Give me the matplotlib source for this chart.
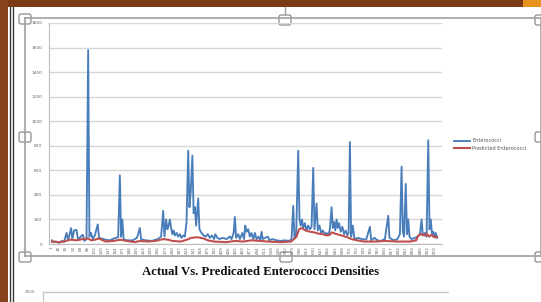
import matplotlib.pyplot as plt
from matplotlib.patches import Rectangle, FancyBboxPatch
from matplotlib.lines import Line2D

obs_idx = [1, 5, 10, 18, 25, 30, 36, 40, 47, 50, 54, 60, 64, 70, 75, 79, 84, 88, 91,
           95, 99, 104, 111, 114, 120, 130, 140, 150, 160, 164, 167, 170, 173, 180,
           195, 205, 212, 215, 225, 240, 255, 263, 268, 271, 275, 278, 281, 284, 287,
           290, 293, 296, 300, 304, 308, 312, 316, 320, 324, 328, 331, 334, 338, 341,
           344, 347, 352, 355, 360, 365, 370, 375, 380, 385, 390, 393, 398, 404, 410,
           420, 428, 432, 437, 440, 443, 448, 452, 458, 462, 465, 468, 472, 476, 480,
           484, 488, 492, 497, 501, 504, 507, 512, 519, 523, 530, 540, 550, 560, 570,
           576, 580, 583, 587, 592, 595, 598, 601, 604, 608, 612, 616, 620, 624, 628,
           631, 636, 639, 643, 647, 651, 656, 660, 664, 668, 672, 675, 678, 681, 684,
           687, 690, 694, 698, 702, 706, 710, 713, 716, 719, 723, 727, 735, 745, 755,
           764, 767, 775, 782, 790, 800, 808, 811, 816, 822, 830, 836, 840, 843, 846,
           850, 853, 856, 859, 864, 872, 878, 884, 888, 891, 896, 900, 904, 907, 910,
           913, 916, 919, 922, 925]
enterococci = [30, 15, 20, 10, 25, 15, 90, 30, 130, 40, 110, 115, 30, 60, 75, 25, 40, 1580, 60,
               90, 40, 70, 160, 50, 45, 35, 30, 45, 55, 560, 60, 200, 40, 30,
               30, 50, 130, 40, 30, 25, 40, 60, 270, 60, 200, 120, 150, 200, 130,
               80, 110, 70, 90, 60, 80, 50, 70, 60, 180, 760, 300, 420, 720, 250,
               300, 150, 370, 120, 90, 70, 60, 80, 50, 70, 40, 80, 50, 40, 50,
               40, 60, 40, 90, 220, 50, 80, 40, 90, 40, 150, 100, 120, 60, 90,
               40, 90, 40, 60, 30, 100, 40, 50, 60, 30, 40, 30, 25, 30, 25,
               40, 310, 50, 60, 760, 200, 150, 200, 130, 170, 110, 150, 120, 140, 620,
               120, 330, 110, 150, 90, 110, 80, 90, 70, 120, 300, 130, 180, 110, 200,
               130, 170, 100, 140, 80, 110, 70, 90, 830, 60, 150, 40, 50, 40, 35,
               140, 30, 50, 30, 25, 40, 230, 50, 40, 30, 40, 80, 630, 100, 60,
               490, 80, 200, 60, 40, 50, 60, 80, 200, 70, 90, 60, 845, 120, 200,
               80, 100, 60, 90, 50]

pred_idx = [1, 20, 35, 45, 60, 75, 88, 95, 105, 112, 120, 130, 150, 165, 180, 200, 212,
            230, 250, 268, 280, 290, 310, 325, 335, 350, 365, 375, 390, 420, 440, 460,
            480, 500, 520, 550, 575, 588, 594, 600, 610, 620, 630, 640, 650, 661, 668,
            672, 680, 690, 700, 710, 720, 733, 750, 780, 800, 830, 860, 875, 880, 888,
            895, 900, 906, 912, 918, 925]
predicted = [20, 15, 25, 35, 30, 40, 45, 30, 35, 45, 35, 20, 25, 35, 25, 15, 25,
             20, 25, 40, 35, 25, 20, 35, 50, 55, 45, 30, 20, 15, 25, 20,
             30, 25, 20, 15, 20, 60, 120, 130, 110, 100, 95, 85, 80, 70, 75,
             95, 85, 75, 65, 55, 40, 30, 20, 20, 25, 20, 20, 30, 70, 80,
             70, 85, 60, 75, 55, 60]

y_ticks = [0, 200, 400, 600, 800, 1000, 1200, 1400, 1600, 1800]
x_tick_labels = list(range(1, 936, 17))

W, H = 541, 302
fig = plt.figure(figsize=(W / 100, H / 100), dpi=100)
fig.patch.set_facecolor('white')

# page / selection decorations in pixel coordinates
deco = fig.add_axes([0, 0, 1, 1], zorder=0)
deco.set_xlim(0, W)
deco.set_ylim(H, 0)
deco.axis('off')
deco.add_patch(Rectangle((0, 0), W, 7, color='#7b3b17', lw=0))
deco.add_patch(Rectangle((523, 0), 18, 7, color='#e8921e', lw=0))
deco.add_patch(Rectangle((0, 0), 8, H, color='#86431c', lw=0))
for xv in (10, 13):
    deco.add_line(Line2D([xv, xv], [7, H], color='#3a3a3a', lw=1.0))
frame_c = '#a0a0a0'
deco.add_line(Line2D([25, 540], [18, 18], color=frame_c, lw=1.2))
deco.add_line(Line2D([25, 540], [256, 256], color=frame_c, lw=1.2))
deco.add_line(Line2D([25, 25], [18, 256], color=frame_c, lw=1.2))
deco.add_line(Line2D([541, 541], [18, 256], color=frame_c, lw=1.2))
deco.add_line(Line2D([285, 285], [7, 14], color=frame_c, lw=1.0))
for cx, cy in [(25, 19), (285, 20), (541, 20), (25, 137), (541, 137),
               (25, 257), (286, 257), (541, 257)]:
    deco.add_patch(FancyBboxPatch((cx - 6, cy - 5), 12, 10,
                                  boxstyle='round,pad=0,rounding_size=2',
                                  fc='white', ec='#8c8c8c', lw=0.9))

# second chart peeking in at the bottom
deco.add_line(Line2D([43, 448], [292, 292], color='#c8c8c8', lw=1.0))
deco.add_line(Line2D([43, 43], [292, H], color='#c8c8c8', lw=1.0))
deco.text(35, 292, '2500', fontsize=3, color='#777777', ha='right', va='center')

deco.text(260, 272, 'Actual Vs. Predicated Enterococci Densities',
          family='Liberation Serif', fontweight='bold', fontsize=9.2,
          ha='center', va='center', color='#111111')

# main chart
ax = fig.add_axes([49 / W, 1 - 244 / H, (442 - 49) / W, (244 - 23) / H], zorder=1)
ax.patch.set_alpha(0)
ax.plot(obs_idx, enterococci, color='#4a7ebb', lw=1.35, label='Enterococci', zorder=2)
ax.plot(pred_idx, predicted, color='#c0504d', lw=1.5, label='Predicted Enterococci', zorder=3)

ax.set_xlim(-6, 937)
ax.set_ylim(0, 1800)
ax.set_yticks(y_ticks)
ax.set_yticklabels([str(v) for v in y_ticks])
ax.set_xticks(x_tick_labels)
ax.set_xticklabels([str(v) for v in x_tick_labels], rotation=90)
ax.tick_params(axis='y', labelsize=3.2, labelcolor='#666666', length=0, pad=5)
ax.tick_params(axis='x', labelsize=3, labelcolor='#666666', length=0, pad=1.5)
ax.grid(axis='y', color='#d6d6d6', lw=1.0)
ax.set_axisbelow(True)
for side in ('top', 'right'):
    ax.spines[side].set_visible(False)
ax.spines['left'].set_color('#bdbdbd')
ax.spines['bottom'].set_color('#bdbdbd')

ax.legend(loc='center left', bbox_to_anchor=(1.02, 0.45), frameon=False,
          fontsize=3.6, handlelength=3.2, handletextpad=0.4, labelspacing=0.5,
          labelcolor='#555555')

fig.savefig('out.png', dpi=100)
